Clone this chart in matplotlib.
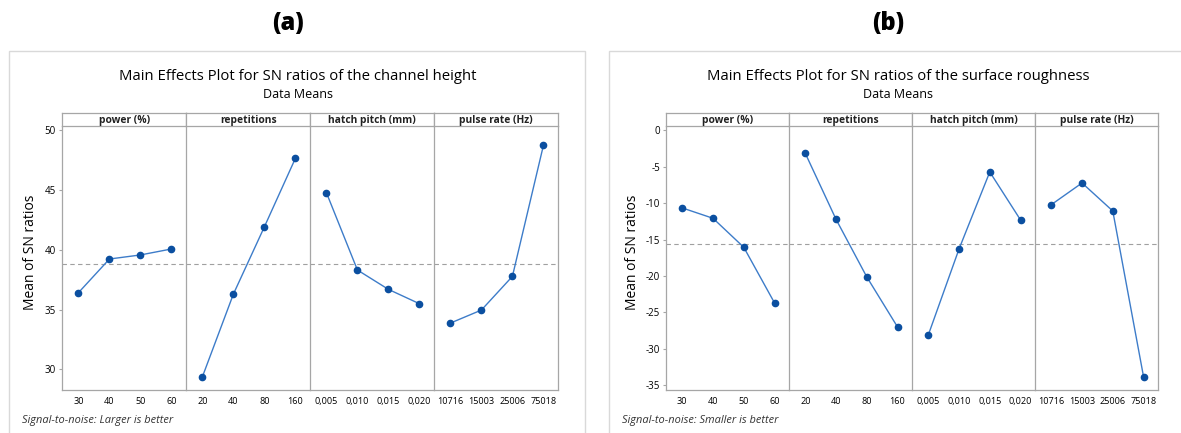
import numpy as np
import matplotlib.pyplot as plt
from matplotlib.patches import Rectangle

plt.rcParams["font.family"] = ["Open Sans", "DejaVu Sans"]

W, H = 1181, 433

factors = ["power (%)", "repetitions", "hatch pitch (mm)", "pulse rate (Hz)"]
levels = [
    ["30", "40", "50", "60"],
    ["20", "40", "80", "160"],
    ["0,005", "0,010", "0,015", "0,020"],
    ["10716", "15003", "25006", "75018"],
]

# mean SN ratios
height_sn = [
    [36.41, 39.23, 39.57, 40.07],
    [29.38, 36.30, 41.93, 47.66],
    [44.78, 38.31, 36.69, 35.49],
    [33.87, 34.96, 37.78, 48.74],
]
rough_sn = [
    [-10.66, -12.08, -16.06, -23.70],
    [-3.16, -12.22, -20.13, -27.00],
    [-28.10, -16.29, -5.72, -12.31],
    [-10.21, -7.23, -11.08, -33.82],
]

height_yticks = [30, 35, 40, 45, 50]
rough_yticks = [0, -5, -10, -15, -20, -25, -30, -35]

line_col = "#3d7cc9"
dot_col = "#0b4fa0"
spine_col = "#a6a6a6"


def px(x, y, w, h):
    # pixel box (from top-left) -> figure fraction
    return [x / W, 1 - (y + h) / H, w / W, h / H]


def main_effects(fig, left, pw, data, yticks, ylim, ref):
    for i in range(4):
        ax = fig.add_axes(px(left + i * pw, 126, pw, 264))
        x = np.arange(4)
        ax.axhline(ref, ls=(0, (4, 3)), color="#a0a0a0", lw=0.8, zorder=1)
        ax.plot(x, data[i], color=line_col, lw=1.0, zorder=2)
        ax.plot(x, data[i], "o", color=dot_col, ms=4.5, zorder=3)
        ax.set_xlim(-0.52, 3.48)
        ax.set_ylim(*ylim)
        ax.set_xticks(x)
        ax.set_xticklabels(levels[i], fontsize=6.6)
        ax.tick_params(axis="x", length=0, pad=5)
        ax.spines["top"].set_visible(False)
        for s in ["left", "right", "bottom"]:
            ax.spines[s].set_color(spine_col)
            ax.spines[s].set_linewidth(0.9)
        if i < 3:
            ax.spines["right"].set_visible(False)
        if i == 0:
            ax.set_yticks(yticks)
            ax.set_yticklabels([str(t) for t in yticks], fontsize=7)
            ax.tick_params(axis="y", length=2.5, color=spine_col, pad=2)
        else:
            ax.set_yticks([])

        st = fig.add_axes(px(left + i * pw, 113.3, pw, 12.7))
        st.set_xticks([])
        st.set_yticks([])
        for s in st.spines.values():
            s.set_color(spine_col)
            s.set_linewidth(0.9)
        st.text(0.5, 0.45, factors[i], ha="center", va="center",
                fontsize=7.4, fontweight="bold", color="#222222",
                transform=st.transAxes)


fig = plt.figure(figsize=(W / 100, H / 100), dpi=100)

# outer frames
fig.patches.append(Rectangle((9.5 / W, -0.05), (585.3 - 9.5) / W, 1 - 51.3 / H + 0.05,
                             transform=fig.transFigure, fill=False,
                             ec="#d9d9d9", lw=1.0))
fig.patches.append(Rectangle((609.3 / W, -0.05), 0.5, 1 - 51.3 / H + 0.05,
                             transform=fig.transFigure, fill=False,
                             ec="#d9d9d9", lw=1.0))

main_effects(fig, 62.3, 124, height_sn, height_yticks, (28.27, 50.36),
             np.mean(height_sn))
main_effects(fig, 666.3, 123, rough_sn, rough_yticks, (-35.65, 0.59),
             np.mean(rough_sn))

# panel letters
fig.text(288 / W, 1 - 24 / H, "(a)", ha="center", va="center",
         fontsize=17, fontweight="heavy")
fig.text(888 / W, 1 - 24 / H, "(b)", ha="center", va="center",
         fontsize=17, fontweight="heavy")

# titles
fig.text(298 / W, 1 - 77 / H, "Main Effects Plot for SN ratios of the channel height",
         ha="center", va="center", fontsize=10.75)
fig.text(298 / W, 1 - 95 / H, "Data Means", ha="center", va="center", fontsize=9)
fig.text(898 / W, 1 - 77 / H, "Main Effects Plot for SN ratios of the surface roughness",
         ha="center", va="center", fontsize=10.75)
fig.text(898 / W, 1 - 95 / H, "Data Means", ha="center", va="center", fontsize=9)

# y labels
fig.text(31 / W, 1 - 252 / H, "Mean of SN ratios", rotation=90,
         ha="center", va="center", fontsize=10)
fig.text(632 / W, 1 - 252 / H, "Mean of SN ratios", rotation=90,
         ha="center", va="center", fontsize=10)

# notes
fig.text(22 / W, 1 - 421 / H, "Signal-to-noise: Larger is better",
         ha="left", va="center", fontsize=7.9, style="italic", color="#333333")
fig.text(622 / W, 1 - 421 / H, "Signal-to-noise: Smaller is better",
         ha="left", va="center", fontsize=7.9, style="italic", color="#333333")

fig.savefig("out.png", dpi=100)
